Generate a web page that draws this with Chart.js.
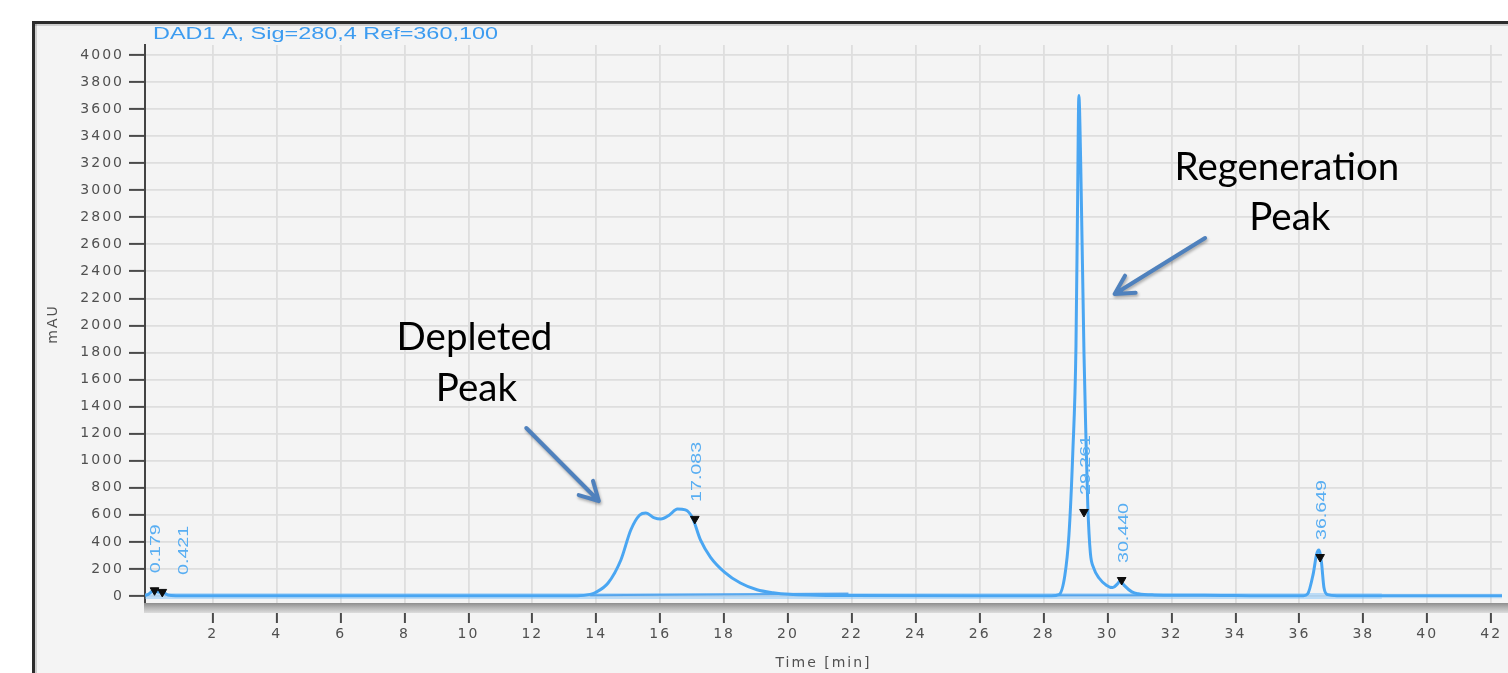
<!DOCTYPE html>
<html>
<head>
<meta charset="utf-8">
<script src="https://cdn.jsdelivr.net/npm/chart.js@4.4.1/dist/chart.umd.min.js"></script>
<style>
html,body{margin:0;padding:0;background:#fff;overflow:hidden;}
#wrap{position:absolute;left:0;top:0;width:1508px;height:673px;}
</style>
</head>
<body>
<div id="wrap"><canvas id="c" width="1508" height="673"></canvas></div>
<script>
// ---------- DATA ----------
const signalTitle = "DAD1 A, Sig=280,4 Ref=360,100";
const xAxisTitle = "Time [min]";
const yAxisTitle = "mAU";
const xTickValues = [2,4,6,8,10,12,14,16,18,20,22,24,26,28,30,32,34,36,38,40,42];
const yTickValues = [0,200,400,600,800,1000,1200,1400,1600,1800,2000,2200,2400,2600,2800,3000,3200,3400,3600,3800,4000];

const timeMin = [-0.12,0.00,0.10,0.18,0.28,0.36,0.43,0.53,0.70,1.50,13.41,13.81,13.96,14.37,14.77,15.08,15.36,15.55,15.82,16.02,16.29,16.54,16.79,17.01,17.26,17.57,18.01,18.51,19.03,19.53,20.03,20.93,21.94,28.25,28.48,28.66,28.79,28.91,29.01,29.06,29.10,29.16,29.26,29.32,29.38,29.46,29.56,29.73,29.96,30.16,30.31,30.40,30.51,30.76,30.96,31.46,33.57,34.47,36.13,36.26,36.43,36.54,36.61,36.69,36.77,36.88,37.18,42.34];
const absorbance = [3,15,35,46,30,28,38,15,4,1,2,12,24,96,266,488,599,614,577,569,599,643,636,577,414,288,177,96,46,24,12,6,3,2,10,150,451,1057,1848,2906,3700,3172,1797,1190,665,318,210,133,80,62,90,112,80,30,16,8,4,2,2,15,160,310,340,250,60,10,2,1];

const peakTimes = [0.179,0.421,17.083,29.261,30.440,36.649];
const peakMarkValues = [42,30,570,621,118,288];
const peakLabels = ["0.179","0.421","17.083","29.261","30.440","36.649"];

const bandTimes = [-0.12, 38.58, 42.34];
const integStartT = [13.81, 28.46];
const integStartV = [5, 5];
const integEndT = [21.89, 33.57];
const integEndV = [18, 5];

// annotations (in data coordinates)
const noteLines = ["Depleted","Peak","Regeneration","Peak"];
const noteT = [10.19, 10.25, 35.61, 35.70];
const noteV = [1819, 1442, 3076, 2706];
const arrowFromT = [11.81, 33.05];
const arrowFromV = [1242, 2647];
const arrowToT = [14.08, 30.22];
const arrowToV = [702, 2233];

// ---------- BUILD ----------
const signalPts = timeMin.map((t,i)=>({x:t,y:absorbance[i]}));
const markPts = peakTimes.map((t,i)=>({x:t,y:peakMarkValues[i]}));
const integPts = [];
integStartT.forEach((t,i)=>{
  integPts.push({x:t,y:integStartV[i]});
  integPts.push({x:integEndT[i],y:integEndV[i]});
  integPts.push({x:integEndT[i]+0.01,y:null});
});

const decor = {
  id:'decor',
  beforeDraw(chart){
    const ctx = chart.ctx, W = chart.width, H = chart.height;
    ctx.save();
    ctx.fillStyle='#ffffff'; ctx.fillRect(0,0,W,H);
    ctx.fillStyle='#f4f4f4'; ctx.fillRect(32,21,W-32,H-21);
    ctx.fillStyle='#2c2c2c'; ctx.fillRect(32,21,W-32,3); ctx.fillRect(32,21,3,H-21);
    ctx.fillStyle='rgba(0,0,0,0.15)'; ctx.fillRect(35,24,W-35,2); ctx.fillRect(35,24,2,H-24);
    ctx.restore();
    ctx.letterSpacing='2px';
  },
  beforeDatasetsDraw(chart){ chart.ctx.letterSpacing='0px'; },
  afterDraw(chart){
    const ctx = chart.ctx, ca = chart.chartArea, W = chart.width;
    const xs = chart.scales.x, ys = chart.scales.y;
    ctx.save();
    ctx.letterSpacing='0px';
    // x axis band
    const g = ctx.createLinearGradient(0,ca.bottom,0,ca.bottom+10);
    g.addColorStop(0,'#8e8e8e'); g.addColorStop(0.45,'#b4b4b4'); g.addColorStop(1,'#dcdcdc');
    ctx.fillStyle=g; ctx.fillRect(ca.left-1,ca.bottom,W-ca.left+1,10);
    // signal title
    ctx.fillStyle='#3d9cf0';
    ctx.font='16px Arial, "Liberation Sans", sans-serif';
    ctx.textBaseline='middle'; ctx.textAlign='left';
    const tw = ctx.measureText(signalTitle).width;
    ctx.save(); ctx.translate(ca.left+8, ca.top-10); ctx.scale(345/tw,1);
    ctx.fillText(signalTitle,0,0); ctx.restore();
    // peak labels
    ctx.fillStyle='#59aef2';
    ctx.font='14px Arial, "Liberation Sans", sans-serif';
    let lastX = -1e9;
    peakTimes.forEach((t,i)=>{
      let px = xs.getPixelForValue(t);
      const py = ys.getPixelForValue(peakMarkValues[i]);
      if (px < lastX + 28) px = lastX + 28;
      lastX = px;
      ctx.save();
      ctx.translate(px+2, py-17);
      ctx.rotate(-Math.PI/2);
      ctx.scale(1.4,1);
      ctx.textAlign='left'; ctx.textBaseline='middle';
      ctx.fillText(peakLabels[i],0,0);
      ctx.restore();
    });
    // arrows
    ctx.strokeStyle='#4f81bd'; ctx.lineWidth=4; ctx.lineCap='round'; ctx.lineJoin='round';
    ctx.shadowColor='rgba(0,0,0,0.3)'; ctx.shadowBlur=3; ctx.shadowOffsetX=1; ctx.shadowOffsetY=2;
    arrowFromT.forEach((t,i)=>{
      const x1=xs.getPixelForValue(t), y1=ys.getPixelForValue(arrowFromV[i]);
      const x2=xs.getPixelForValue(arrowToT[i]), y2=ys.getPixelForValue(arrowToV[i]);
      const a=Math.atan2(y2-y1,x2-x1), L=21, sp=0.5;
      ctx.beginPath();
      ctx.moveTo(x1,y1); ctx.lineTo(x2,y2);
      ctx.moveTo(x2-L*Math.cos(a-sp),y2-L*Math.sin(a-sp)); ctx.lineTo(x2,y2);
      ctx.lineTo(x2-L*Math.cos(a+sp),y2-L*Math.sin(a+sp));
      ctx.stroke();
    });
    ctx.shadowColor='transparent';
    // annotation text
    ctx.fillStyle='#000';
    ctx.font='38.5px Lato, "Open Sans", sans-serif';
    ctx.textAlign='center'; ctx.textBaseline='alphabetic';
    noteLines.forEach((s,i)=>{
      ctx.fillText(s, xs.getPixelForValue(noteT[i]), ys.getPixelForValue(noteV[i]));
    });
    ctx.restore();
  }
};

const tickFont = {family:'"DejaVu Sans", Arial, sans-serif', size:14};
const titleFont = {family:'"DejaVu Sans", Arial, sans-serif', size:14};

new Chart(document.getElementById('c'), {
  type:'line',
  data:{datasets:[
    {data:[{x:bandTimes[0],y:0},{x:bandTimes[1],y:0}], borderColor:'rgba(120,190,250,0.45)', borderWidth:6, pointRadius:0, order:5},
    {data:[{x:bandTimes[1],y:0},{x:bandTimes[2],y:0}], borderColor:'rgba(120,190,250,0.25)', borderWidth:5, pointRadius:0, order:5},
    {data:integPts, borderColor:'rgba(55,150,235,0.75)', borderWidth:2, pointRadius:0, spanGaps:false, order:4},
    {data:signalPts, borderColor:'#4aa6f2', borderWidth:3, pointRadius:0, cubicInterpolationMode:'monotone', order:2},
    {type:'scatter', data:markPts, pointStyle:'triangle', rotation:180, pointRadius:5, backgroundColor:'#0d0d0d', borderColor:'#0d0d0d', borderWidth:1, showLine:false, order:1}
  ]},
  options:{
    responsive:false, animation:false, devicePixelRatio:1,
    layout:{padding:{top:45,left:0,right:0,bottom:0}},
    plugins:{legend:{display:false}, tooltip:{enabled:false}},
    scales:{
      x:{type:'linear', min:-0.12, max:42.34,
        afterBuildTicks:s=>{s.ticks = xTickValues.map(v=>({value:v}));},
        afterFit:s=>{s.height=70;},
        grid:{color:'#dedede', lineWidth:1.8, drawTicks:true, tickLength:20, tickColor:'#4a4a4a', tickWidth:2},
        border:{display:false},
        ticks:{font:tickFont, color:'#505050', padding:3, maxRotation:0, autoSkip:false, callback:v=>String(v)},
        title:{display:true, text:xAxisTitle, font:titleFont, color:'#505050', padding:{top:0,bottom:1}}
      },
      y:{type:'linear', min:-52, max:4074,
        afterBuildTicks:s=>{s.ticks = yTickValues.map(v=>({value:v}));},
        afterFit:s=>{s.width=145;},
        grid:{color:'#dedede', lineWidth:1.8, drawTicks:true, tickLength:16, tickColor:'#4a4a4a', tickWidth:2},
        border:{display:true, color:'#444', width:2},
        ticks:{font:tickFont, color:'#505050', padding:5, autoSkip:false, callback:v=>String(v)},
        title:{display:true, text:yAxisTitle, font:titleFont, color:'#505050', padding:{top:45,bottom:0}}
      }
    }
  },
  plugins:[decor]
});
</script>
</body>
</html>
